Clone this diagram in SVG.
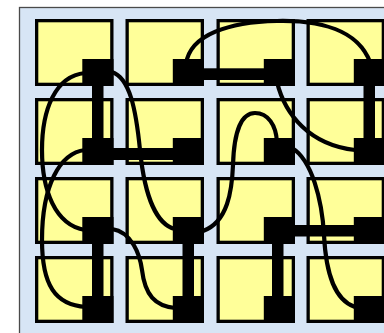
<svg xmlns="http://www.w3.org/2000/svg" width="384" height="333" viewBox="0 0 384 333">
  <style>
    .cell { fill: #FFFF99; stroke: #000; stroke-width: 3.3; }
    .pin { fill: #000; }
    .bar { fill: #000; }
    .wire { fill: none; stroke: #000; stroke-width: 4.2; stroke-linecap: round; }
  </style>
  <rect x="0" y="0" width="384" height="333" fill="#FFFFFF"/>
  <g id="frame">
    <rect x="19.5" y="7.5" width="380" height="340" fill="#D7E5F5" stroke="#4a4a4a" stroke-width="1.3"/>
  </g>
  <g id="cell-r1c1"><rect class="cell" x="36.65" y="20.65" width="75.2" height="63.7"/><rect class="pin" x="82.3" y="59" width="31.2" height="27"/></g>
  <g id="cell-r1c2"><rect class="cell" x="127.15" y="20.65" width="75.2" height="63.7"/><rect class="pin" x="172.8" y="59" width="31.2" height="27"/></g>
  <g id="cell-r1c3"><rect class="cell" x="218.15" y="20.65" width="75.2" height="63.7"/><rect class="pin" x="263.8" y="59" width="31.2" height="27"/></g>
  <g id="cell-r1c4"><rect class="cell" x="308.15" y="20.65" width="75.2" height="63.7"/><rect class="pin" x="353.8" y="59" width="31.2" height="27"/></g>
  <g id="cell-r2c1"><rect class="cell" x="36.65" y="99.65" width="75.2" height="63.7"/><rect class="pin" x="82.3" y="138" width="31.2" height="27"/></g>
  <g id="cell-r2c2"><rect class="cell" x="127.15" y="99.65" width="75.2" height="63.7"/><rect class="pin" x="172.8" y="138" width="31.2" height="27"/></g>
  <g id="cell-r2c3"><rect class="cell" x="218.15" y="99.65" width="75.2" height="63.7"/><rect class="pin" x="263.8" y="138" width="31.2" height="27"/></g>
  <g id="cell-r2c4"><rect class="cell" x="308.15" y="99.65" width="75.2" height="63.7"/><rect class="pin" x="353.8" y="138" width="31.2" height="27"/></g>
  <g id="cell-r3c1"><rect class="cell" x="36.65" y="178.65" width="75.2" height="63.7"/><rect class="pin" x="82.3" y="217" width="31.2" height="27"/></g>
  <g id="cell-r3c2"><rect class="cell" x="127.15" y="178.65" width="75.2" height="63.7"/><rect class="pin" x="172.8" y="217" width="31.2" height="27"/></g>
  <g id="cell-r3c3"><rect class="cell" x="218.15" y="178.65" width="75.2" height="63.7"/><rect class="pin" x="263.8" y="217" width="31.2" height="27"/></g>
  <g id="cell-r3c4"><rect class="cell" x="308.15" y="178.65" width="75.2" height="63.7"/><rect class="pin" x="353.8" y="217" width="31.2" height="27"/></g>
  <g id="cell-r4c1"><rect class="cell" x="36.65" y="257.65" width="75.2" height="63.7"/><rect class="pin" x="82.3" y="296" width="31.2" height="27"/></g>
  <g id="cell-r4c2"><rect class="cell" x="127.15" y="257.65" width="75.2" height="63.7"/><rect class="pin" x="172.8" y="296" width="31.2" height="27"/></g>
  <g id="cell-r4c3"><rect class="cell" x="218.15" y="257.65" width="75.2" height="63.7"/><rect class="pin" x="263.8" y="296" width="31.2" height="27"/></g>
  <g id="cell-r4c4"><rect class="cell" x="308.15" y="257.65" width="75.2" height="63.7"/><rect class="pin" x="353.8" y="296" width="31.2" height="27"/></g>
  <g id="connectors">
    <rect class="bar" x="92" y="85" width="11.5" height="55"/>
    <rect class="bar" x="203" y="68.3" width="61" height="11.7"/>
    <rect class="bar" x="363.5" y="85" width="11.5" height="55"/>
    <rect class="bar" x="112" y="148" width="62" height="12"/>
    <rect class="bar" x="92" y="243" width="11.5" height="54"/>
    <rect class="bar" x="182.5" y="243" width="11.5" height="54"/>
    <rect class="bar" x="294" y="225" width="61" height="11.5"/>
    <rect class="bar" x="272" y="243" width="11.5" height="54"/>
    <path class="wire" d="M 85,73 C 55,76 42,110 42,150 C 42,190 55,225 85,230"/>
    <path class="wire" d="M 85,150 C 60,153 42,185 42,240 C 42,285 55,305 86,307"/>
    <path class="wire" d="M 112,72 C 130,78 136,110 140,150 C 145,200 158,225 175,229"/>
    <path class="wire" d="M 112,229 C 132,232 140,255 142,270 C 145,295 155,306 175,308"/>
    <path class="wire" d="M 203,231 C 228,222 232,190 233,165 C 234,130 242,113 255,113 C 268,113 276,125 277,142"/>
    <path class="wire" d="M 277,82 C 285,115 310,145 355,150"/>
    <path class="wire" d="M 186,64 C 190,34 230,22 277,21 C 320,20 358,30 370,62"/>
    <path class="wire" d="M 292,148 C 312,160 322,200 324,235 C 326,275 335,300 355,307"/>
  </g>
</svg>
